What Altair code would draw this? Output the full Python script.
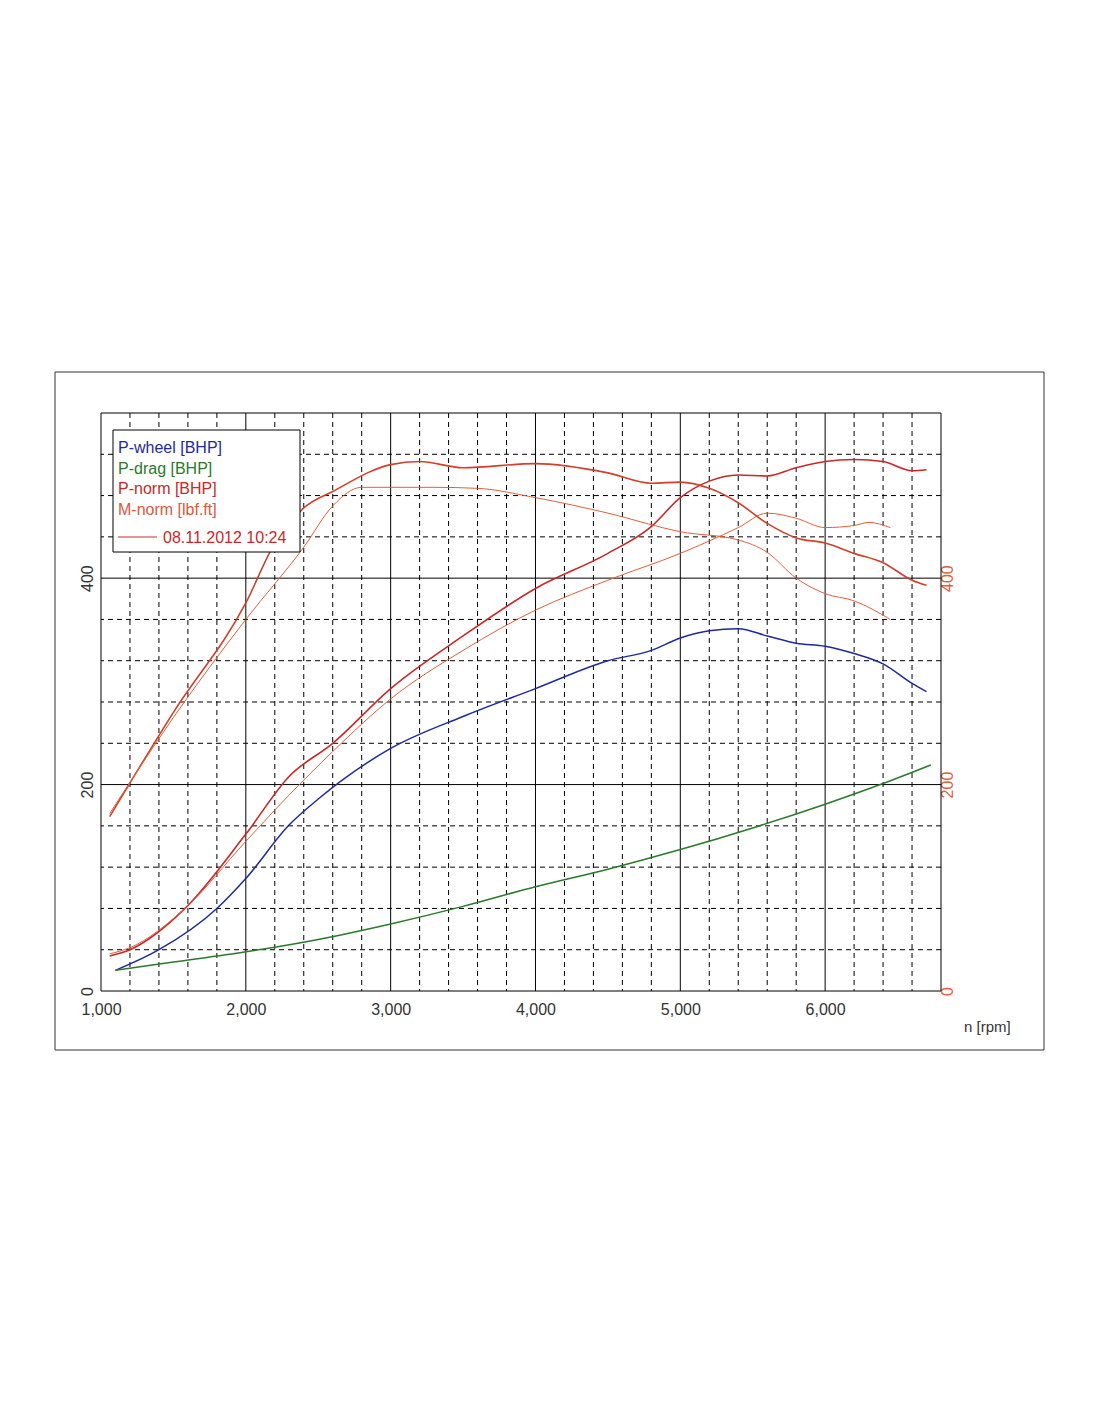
import altair as alt
import pandas as pd

# P-wheel [BHP]
wheel_rpm = [1100, 1400, 1800, 2000, 2300, 2500, 3000, 3500, 4000, 4500, 4800, 5000, 5200, 5400, 5600, 5800, 6000, 6200, 6400, 6600, 6700]
wheel_val = [20, 40, 80, 109, 161, 186, 235, 266, 293, 320, 330, 342, 349, 351, 344, 337, 334, 327, 317, 298, 290]

# P-drag [BHP]
drag_rpm = [1100, 1500, 2000, 2500, 3000, 3500, 4000, 4500, 5000, 5500, 6000, 6400, 6730]
drag_val = [20, 28, 38, 50, 65, 82, 101, 118, 137, 158, 181, 201, 219]

# P-norm [BHP], thick run and thin run
pnorm_rpm = [1060, 1200, 1580, 2000, 2300, 2600, 3000, 3500, 4000, 4500, 4800, 5000, 5200, 5400, 5600, 5800, 6000, 6200, 6400, 6600, 6700]
pnorm_val = [34, 40, 80, 152, 208, 240, 293, 344, 390, 424, 450, 478, 494, 500, 499, 507, 513, 515, 513, 504, 505]
pnorm2_rpm = [1060, 1200, 1580, 2000, 2300, 2600, 3000, 3500, 4000, 4500, 5000, 5400, 5600, 5800, 6000, 6200, 6300, 6450]
pnorm2_val = [36, 42, 80, 145, 190, 232, 283, 330, 369, 398, 424, 449, 463, 458, 449, 451, 454, 449]

# M-norm [lbf.ft], thick run and thin run
mnorm_rpm = [1060, 1500, 2000, 2200, 2400, 2600, 3000, 3200, 3500, 4000, 4500, 4800, 5000, 5200, 5400, 5600, 5800, 6000, 6200, 6400, 6600, 6700]
mnorm_val = [169, 270, 376, 434, 468, 484, 510, 513, 507, 511, 502, 492, 493, 487, 473, 453, 439, 434, 424, 415, 398, 393]
mnorm2_rpm = [1060, 1500, 2000, 2400, 2600, 2800, 3000, 3300, 3600, 4000, 4500, 5000, 5400, 5600, 5800, 6000, 6200, 6450]
mnorm2_val = [172, 265, 360, 430, 470, 488, 488, 488, 487, 478, 463, 445, 437, 425, 400, 385, 378, 360]

grid_dashed_x = [1200, 1400, 1600, 1800, 2200, 2400, 2600, 2800, 3200, 3400, 3600, 3800, 4200, 4400, 4600, 4800,
                 5200, 5400, 5600, 5800, 6200, 6400, 6600]
grid_solid_x = [2000, 3000, 4000, 5000, 6000]
grid_dashed_y = [40, 80, 120, 160, 240, 280, 320, 360, 440, 480, 520]
grid_solid_y = [200, 400]

legend_labels = ["P-wheel [BHP]", "P-drag [BHP]", "P-norm [BHP]", "M-norm [lbf.ft]"]
legend_colors = ["#1f2a9a", "#2a7a2a", "#c82828", "#d85a3a"]

series = [
    ("wheel", wheel_rpm, wheel_val, "#1f2a9a", 1.5),
    ("drag", drag_rpm, drag_val, "#2a7a2a", 1.5),
    ("pnorm", pnorm_rpm, pnorm_val, "#c82828", 1.6),
    ("pnorm2", pnorm2_rpm, pnorm2_val, "#e0603a", 1.0),
    ("mnorm", mnorm_rpm, mnorm_val, "#d0402a", 1.6),
    ("mnorm2", mnorm2_rpm, mnorm2_val, "#e0603a", 1.0),
]

FONT = "Liberation Sans"
xs = alt.Scale(domain=[1000, 6800], nice=False)
ys = alt.Scale(domain=[0, 560], nice=False)

W, H = 840, 578

layers = []

# axes first so their settings win
base_axis = dict(grid=False, ticks=False, domain=False, labelFont=FONT, labelFontSize=16)
layers.append(
    alt.Chart(pd.DataFrame({"rpm": [1000], "val": [0]}))
    .mark_point(opacity=0)
    .encode(
        x=alt.X("rpm:Q", scale=xs, axis=alt.Axis(values=[1000, 2000, 3000, 4000, 5000, 6000], title=None,
                                                   labelColor="#333", labelPadding=10, labelFlush=False, **base_axis)),
        y=alt.Y("val:Q", scale=ys, axis=alt.Axis(values=[0, 200, 400], title=None, labelAngle=270,
                                                  labelColor="#333", labelPadding=6, labelBaseline="bottom",
                                                  labelAlign="center", **base_axis)),
    )
)

# grid
for vals, dash in [(grid_dashed_x, [5, 4]), (grid_solid_x, [])]:
    layers.append(
        alt.Chart(pd.DataFrame({"x": vals}))
        .mark_rule(color="black", strokeWidth=1, strokeDash=dash)
        .encode(x=alt.X("x:Q", scale=xs))
    )
for vals, dash in [(grid_dashed_y, [5, 4]), (grid_solid_y, [])]:
    layers.append(
        alt.Chart(pd.DataFrame({"y": vals}))
        .mark_rule(color="black", strokeWidth=1, strokeDash=dash)
        .encode(y=alt.Y("y:Q", scale=ys))
    )

for name, rpm, val, color, sw in series:
    layers.append(
        alt.Chart(pd.DataFrame({"rpm": rpm, "val": val}))
        .mark_line(color=color, strokeWidth=sw, interpolate="monotone")
        .encode(x=alt.X("rpm:Q", scale=xs), y=alt.Y("val:Q", scale=ys))
    )

# frames
layers.append(
    alt.Chart(pd.DataFrame({"a": [0]}))
    .mark_rect(fill=None, stroke="black", strokeWidth=1)
    .encode(x=alt.value(0), x2=alt.value(W), y=alt.value(0), y2=alt.value(H))
)
layers.append(
    alt.Chart(pd.DataFrame({"a": [0]}))
    .mark_rect(fill=None, stroke="#333", strokeWidth=1)
    .encode(x=alt.value(-46), x2=alt.value(943), y=alt.value(-41), y2=alt.value(637))
)
layers.append(
    alt.Chart(pd.DataFrame({"t": ["n [rpm]"]}))
    .mark_text(font=FONT, fontSize=15, color="#333", align="left")
    .encode(x=alt.value(863), y=alt.value(614), text="t:N")
)

# legend box
layers.append(
    alt.Chart(pd.DataFrame({"a": [0]}))
    .mark_rect(fill="white", stroke="black", strokeWidth=1)
    .encode(x=alt.value(12), x2=alt.value(199), y=alt.value(17), y2=alt.value(139))
)
legend_df = pd.DataFrame({"label": legend_labels, "color": legend_colors, "i": range(4)})
layers.append(
    alt.Chart(legend_df)
    .transform_calculate(py="35 + datum.i * 20.7")
    .mark_text(font=FONT, fontSize=16, align="left")
    .encode(
        x=alt.value(17),
        y=alt.Y("py:Q", scale=None),
        text="label:N",
        color=alt.Color("color:N", scale=None),
    )
)
layers.append(
    alt.Chart(pd.DataFrame({"a": [0]}))
    .mark_rule(color="#c82828", strokeWidth=1)
    .encode(x=alt.value(17), x2=alt.value(56), y=alt.value(124))
)
layers.append(
    alt.Chart(pd.DataFrame({"t": ["08.11.2012 10:24"]}))
    .mark_text(font=FONT, fontSize=16, color="#c82828", align="left")
    .encode(x=alt.value(62), y=alt.value(125), text="t:N")
)

left = alt.layer(*layers)

right = (
    alt.Chart(pd.DataFrame({"val": [0]}))
    .mark_point(opacity=0)
    .encode(
        y=alt.Y("val:Q", scale=ys, axis=alt.Axis(orient="right", values=[0, 200, 400], title=None, labelAngle=270,
                                                  labelColor="#e0603a", labelPadding=14, labelBaseline="bottom",
                                                  labelAlign="center", **base_axis))
    )
)

chart = (
    alt.layer(left, right)
    .resolve_scale(y="independent")
    .properties(width=W, height=H, padding={"left": 93, "top": 405, "right": 140, "bottom": 100},
                autosize=alt.AutoSizeParams(type="none"))
    .configure_view(strokeWidth=0)
)

chart.save("out.html", embed_options={"renderer": "svg", "actions": False})
